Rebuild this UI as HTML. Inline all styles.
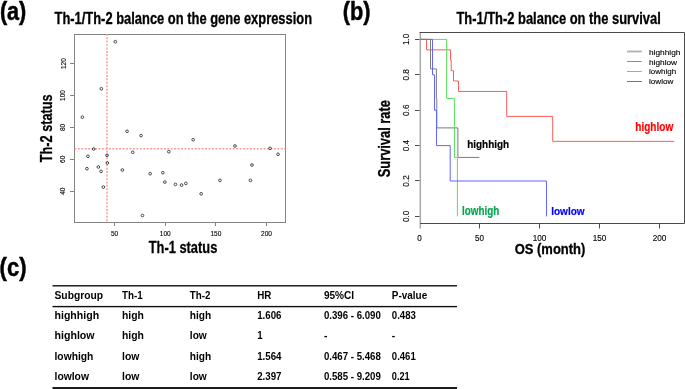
<!DOCTYPE html>
<html><head><meta charset="utf-8"><title>Th-1/Th-2 balance</title>
<style>
html,body{margin:0;padding:0;background:#fff;}
body{width:685px;height:389px;overflow:hidden;font-family:"Liberation Sans",sans-serif;}
svg{display:block;will-change:transform;opacity:0.999;}
svg text{font-family:"Liberation Sans",sans-serif;}
</style></head><body>
<svg width="685" height="389" viewBox="0 0 685 389">
<rect width="685" height="389" fill="#fff"/>
<text x="-0.10" y="19.80" font-size="26" font-weight="bold" fill="#000" text-anchor="start" textLength="26.40" lengthAdjust="spacingAndGlyphs" stroke="#000" stroke-width="0.5">(a)</text>
<text x="342.80" y="19.80" font-size="26" font-weight="bold" fill="#000" text-anchor="start" textLength="27.80" lengthAdjust="spacingAndGlyphs" stroke="#000" stroke-width="0.5">(b)</text>
<text x="-0.40" y="276.00" font-size="26" font-weight="bold" fill="#000" text-anchor="start" textLength="26.90" lengthAdjust="spacingAndGlyphs" stroke="#000" stroke-width="0.5">(c)</text>
<text x="54.50" y="23.70" font-size="16.0" font-weight="bold" fill="#000" text-anchor="start" textLength="257.60" lengthAdjust="spacingAndGlyphs" stroke="#000" stroke-width="0.3">Th-1/Th-2 balance on the gene expression</text>
<text x="456.40" y="23.70" font-size="16.0" font-weight="bold" fill="#000" text-anchor="start" textLength="204.40" lengthAdjust="spacingAndGlyphs" stroke="#000" stroke-width="0.3">Th-1/Th-2 balance on the survival</text>
<rect x="74.5" y="34.5" width="211.0" height="188.0" fill="none" stroke="#848484" stroke-width="1"/>
<line x1="114.50" y1="222.50" x2="114.50" y2="226.00" stroke="#848484" stroke-width="1" />
<text x="110.95" y="236.20" font-size="7.0" font-weight="normal" fill="#000" text-anchor="start" textLength="7.30" lengthAdjust="spacingAndGlyphs" stroke="#000" stroke-width="0.12">50</text>
<line x1="165.50" y1="222.50" x2="165.50" y2="226.00" stroke="#848484" stroke-width="1" />
<text x="159.78" y="236.20" font-size="7.0" font-weight="normal" fill="#000" text-anchor="start" textLength="10.90" lengthAdjust="spacingAndGlyphs" stroke="#000" stroke-width="0.12">100</text>
<line x1="215.50" y1="222.50" x2="215.50" y2="226.00" stroke="#848484" stroke-width="1" />
<text x="210.42" y="236.20" font-size="7.0" font-weight="normal" fill="#000" text-anchor="start" textLength="10.90" lengthAdjust="spacingAndGlyphs" stroke="#000" stroke-width="0.12">150</text>
<line x1="266.50" y1="222.50" x2="266.50" y2="226.00" stroke="#848484" stroke-width="1" />
<text x="261.06" y="236.20" font-size="7.0" font-weight="normal" fill="#000" text-anchor="start" textLength="10.90" lengthAdjust="spacingAndGlyphs" stroke="#000" stroke-width="0.12">200</text>
<line x1="70.00" y1="191.50" x2="74.50" y2="191.50" stroke="#848484" stroke-width="1" />
<text x="65.50" y="194.85" font-size="7.2" font-weight="normal" fill="#000" text-anchor="start" textLength="7.30" lengthAdjust="spacingAndGlyphs" transform="rotate(-90 65.50 194.85)" stroke="#000" stroke-width="0.12">40</text>
<line x1="70.00" y1="159.50" x2="74.50" y2="159.50" stroke="#848484" stroke-width="1" />
<text x="65.50" y="162.95" font-size="7.2" font-weight="normal" fill="#000" text-anchor="start" textLength="7.30" lengthAdjust="spacingAndGlyphs" transform="rotate(-90 65.50 162.95)" stroke="#000" stroke-width="0.12">60</text>
<line x1="70.00" y1="127.50" x2="74.50" y2="127.50" stroke="#848484" stroke-width="1" />
<text x="65.50" y="131.05" font-size="7.2" font-weight="normal" fill="#000" text-anchor="start" textLength="7.30" lengthAdjust="spacingAndGlyphs" transform="rotate(-90 65.50 131.05)" stroke="#000" stroke-width="0.12">80</text>
<line x1="70.00" y1="95.50" x2="74.50" y2="95.50" stroke="#848484" stroke-width="1" />
<text x="65.50" y="100.90" font-size="7.2" font-weight="normal" fill="#000" text-anchor="start" textLength="10.80" lengthAdjust="spacingAndGlyphs" transform="rotate(-90 65.50 100.90)" stroke="#000" stroke-width="0.12">100</text>
<line x1="70.00" y1="63.50" x2="74.50" y2="63.50" stroke="#848484" stroke-width="1" />
<text x="65.50" y="69.00" font-size="7.2" font-weight="normal" fill="#000" text-anchor="start" textLength="10.80" lengthAdjust="spacingAndGlyphs" transform="rotate(-90 65.50 69.00)" stroke="#000" stroke-width="0.12">120</text>
<line x1="107.00" y1="34.50" x2="107.00" y2="222.50" stroke="#ffb2b2" stroke-width="2.0" stroke-dasharray="2.0 1.435" stroke-dashoffset="0.8"/>
<line x1="74.50" y1="148.75" x2="285.50" y2="148.75" stroke="#ff9595" stroke-width="1.5" stroke-dasharray="1.8 1.64"/>
<circle cx="115.35" cy="41.70" r="1.35" fill="none" stroke="#1e1e1e" stroke-width="0.78"/>
<circle cx="101.35" cy="88.80" r="1.35" fill="none" stroke="#1e1e1e" stroke-width="0.78"/>
<circle cx="82.35" cy="117.20" r="1.35" fill="none" stroke="#1e1e1e" stroke-width="0.78"/>
<circle cx="127.05" cy="131.30" r="1.35" fill="none" stroke="#1e1e1e" stroke-width="0.78"/>
<circle cx="141.05" cy="135.60" r="1.35" fill="none" stroke="#1e1e1e" stroke-width="0.78"/>
<circle cx="93.65" cy="149.00" r="1.35" fill="none" stroke="#1e1e1e" stroke-width="0.78"/>
<circle cx="87.95" cy="156.30" r="1.35" fill="none" stroke="#1e1e1e" stroke-width="0.78"/>
<circle cx="107.05" cy="155.30" r="1.35" fill="none" stroke="#1e1e1e" stroke-width="0.78"/>
<circle cx="107.35" cy="163.00" r="1.35" fill="none" stroke="#1e1e1e" stroke-width="0.78"/>
<circle cx="132.75" cy="152.30" r="1.35" fill="none" stroke="#1e1e1e" stroke-width="0.78"/>
<circle cx="168.85" cy="151.70" r="1.35" fill="none" stroke="#1e1e1e" stroke-width="0.78"/>
<circle cx="86.95" cy="168.70" r="1.35" fill="none" stroke="#1e1e1e" stroke-width="0.78"/>
<circle cx="98.35" cy="167.00" r="1.35" fill="none" stroke="#1e1e1e" stroke-width="0.78"/>
<circle cx="101.05" cy="171.40" r="1.35" fill="none" stroke="#1e1e1e" stroke-width="0.78"/>
<circle cx="122.35" cy="170.00" r="1.35" fill="none" stroke="#1e1e1e" stroke-width="0.78"/>
<circle cx="150.15" cy="173.70" r="1.35" fill="none" stroke="#1e1e1e" stroke-width="0.78"/>
<circle cx="162.85" cy="172.70" r="1.35" fill="none" stroke="#1e1e1e" stroke-width="0.78"/>
<circle cx="164.85" cy="182.10" r="1.35" fill="none" stroke="#1e1e1e" stroke-width="0.78"/>
<circle cx="103.35" cy="187.10" r="1.35" fill="none" stroke="#1e1e1e" stroke-width="0.78"/>
<circle cx="142.45" cy="215.50" r="1.35" fill="none" stroke="#1e1e1e" stroke-width="0.78"/>
<circle cx="193.15" cy="139.70" r="1.35" fill="none" stroke="#1e1e1e" stroke-width="0.78"/>
<circle cx="234.95" cy="146.00" r="1.35" fill="none" stroke="#1e1e1e" stroke-width="0.78"/>
<circle cx="270.05" cy="148.30" r="1.35" fill="none" stroke="#1e1e1e" stroke-width="0.78"/>
<circle cx="278.05" cy="154.30" r="1.35" fill="none" stroke="#1e1e1e" stroke-width="0.78"/>
<circle cx="251.95" cy="165.00" r="1.35" fill="none" stroke="#1e1e1e" stroke-width="0.78"/>
<circle cx="250.35" cy="180.40" r="1.35" fill="none" stroke="#1e1e1e" stroke-width="0.78"/>
<circle cx="219.95" cy="180.40" r="1.35" fill="none" stroke="#1e1e1e" stroke-width="0.78"/>
<circle cx="175.45" cy="184.40" r="1.35" fill="none" stroke="#1e1e1e" stroke-width="0.78"/>
<circle cx="181.55" cy="185.10" r="1.35" fill="none" stroke="#1e1e1e" stroke-width="0.78"/>
<circle cx="185.85" cy="183.40" r="1.35" fill="none" stroke="#1e1e1e" stroke-width="0.78"/>
<circle cx="201.15" cy="193.80" r="1.35" fill="none" stroke="#1e1e1e" stroke-width="0.78"/>
<text x="148.70" y="252.60" font-size="16.8" font-weight="bold" fill="#000" text-anchor="start" textLength="68.60" lengthAdjust="spacingAndGlyphs" stroke="#000" stroke-width="0.3">Th-1 status</text>
<text x="51.90" y="162.30" font-size="16.8" font-weight="bold" fill="#000" text-anchor="start" textLength="68.00" lengthAdjust="spacingAndGlyphs" transform="rotate(-90 51.90 162.30)" stroke="#000" stroke-width="0.3">Th-2 status</text>
<line x1="420.30" y1="32.50" x2="420.30" y2="228.50" stroke="#a8a8a8" stroke-width="1.5" />
<path d="M419.5 32.5 H684.5 V223.5 H420" fill="none" stroke="#4a4a4a" stroke-width="1"/>
<text x="417.35" y="240.90" font-size="8.6" font-weight="normal" fill="#000" text-anchor="start" textLength="4.50" lengthAdjust="spacingAndGlyphs" stroke="#000" stroke-width="0.12">0</text>
<line x1="479.50" y1="223.50" x2="479.50" y2="228.50" stroke="#4a4a4a" stroke-width="1" />
<text x="475.08" y="240.90" font-size="8.6" font-weight="normal" fill="#000" text-anchor="start" textLength="9.00" lengthAdjust="spacingAndGlyphs" stroke="#000" stroke-width="0.12">50</text>
<line x1="539.50" y1="223.50" x2="539.50" y2="228.50" stroke="#4a4a4a" stroke-width="1" />
<text x="532.75" y="240.90" font-size="8.6" font-weight="normal" fill="#000" text-anchor="start" textLength="13.60" lengthAdjust="spacingAndGlyphs" stroke="#000" stroke-width="0.12">100</text>
<line x1="599.50" y1="223.50" x2="599.50" y2="228.50" stroke="#4a4a4a" stroke-width="1" />
<text x="592.73" y="240.90" font-size="8.6" font-weight="normal" fill="#000" text-anchor="start" textLength="13.60" lengthAdjust="spacingAndGlyphs" stroke="#000" stroke-width="0.12">150</text>
<line x1="659.50" y1="223.50" x2="659.50" y2="228.50" stroke="#4a4a4a" stroke-width="1" />
<text x="652.70" y="240.90" font-size="8.6" font-weight="normal" fill="#000" text-anchor="start" textLength="13.60" lengthAdjust="spacingAndGlyphs" stroke="#000" stroke-width="0.12">200</text>
<line x1="415.00" y1="216.50" x2="419.50" y2="216.50" stroke="#4a4a4a" stroke-width="1" />
<text x="408.80" y="222.10" font-size="8.6" font-weight="normal" fill="#000" text-anchor="start" textLength="11.40" lengthAdjust="spacingAndGlyphs" transform="rotate(-90 408.80 222.10)" stroke="#000" stroke-width="0.12">0.0</text>
<line x1="415.00" y1="180.50" x2="419.50" y2="180.50" stroke="#4a4a4a" stroke-width="1" />
<text x="408.80" y="186.70" font-size="8.6" font-weight="normal" fill="#000" text-anchor="start" textLength="11.40" lengthAdjust="spacingAndGlyphs" transform="rotate(-90 408.80 186.70)" stroke="#000" stroke-width="0.12">0.2</text>
<line x1="415.00" y1="145.50" x2="419.50" y2="145.50" stroke="#4a4a4a" stroke-width="1" />
<text x="408.80" y="151.30" font-size="8.6" font-weight="normal" fill="#000" text-anchor="start" textLength="11.40" lengthAdjust="spacingAndGlyphs" transform="rotate(-90 408.80 151.30)" stroke="#000" stroke-width="0.12">0.4</text>
<line x1="415.00" y1="110.50" x2="419.50" y2="110.50" stroke="#4a4a4a" stroke-width="1" />
<text x="408.80" y="115.90" font-size="8.6" font-weight="normal" fill="#000" text-anchor="start" textLength="11.40" lengthAdjust="spacingAndGlyphs" transform="rotate(-90 408.80 115.90)" stroke="#000" stroke-width="0.12">0.6</text>
<line x1="415.00" y1="74.50" x2="419.50" y2="74.50" stroke="#4a4a4a" stroke-width="1" />
<text x="408.80" y="80.50" font-size="8.6" font-weight="normal" fill="#000" text-anchor="start" textLength="11.40" lengthAdjust="spacingAndGlyphs" transform="rotate(-90 408.80 80.50)" stroke="#000" stroke-width="0.12">0.8</text>
<line x1="415.00" y1="39.50" x2="419.50" y2="39.50" stroke="#4a4a4a" stroke-width="1" />
<text x="408.80" y="45.10" font-size="8.6" font-weight="normal" fill="#000" text-anchor="start" textLength="11.40" lengthAdjust="spacingAndGlyphs" transform="rotate(-90 408.80 45.10)" stroke="#000" stroke-width="0.12">1.0</text>
<path d="M420.50 39.40 H430.50 V68.91 H436.40 V98.39 H436.80 V127.90 H457.90 V157.41 H479.30 V157.41" fill="none" stroke="#7c7c7c" stroke-width="1.0" stroke-linejoin="miter"/>
<path d="M420.50 39.40 H426.50 V49.84 H450.50 V60.29 H451.20 V70.73 H453.50 V81.00 H458.50 V91.44 H506.70 V116.40 H552.70 V141.35 H674.30 V141.35" fill="none" stroke="#ff5c5c" stroke-width="1.0" stroke-linejoin="miter"/>
<path d="M420.50 39.40 H446.70 V98.39 H454.40 V157.41 H457.40 V216.40" fill="none" stroke="#55e055" stroke-width="1.0" stroke-linejoin="miter"/>
<path d="M420.50 39.40 H432.50 V74.80 H434.50 V110.20 H436.50 V145.60 H450.20 V181.00 H546.50 V216.40" fill="none" stroke="#6464ff" stroke-width="1.0" stroke-linejoin="miter"/>
<line x1="627.00" y1="51.50" x2="641.80" y2="51.50" stroke="#b0b0b0" stroke-width="1.8" />
<text x="649.00" y="54.80" font-size="8.0" font-weight="normal" fill="#000" text-anchor="start" textLength="31.40" lengthAdjust="spacingAndGlyphs" stroke="#000" stroke-width="0.12">highhigh</text>
<line x1="627.00" y1="61.50" x2="641.80" y2="61.50" stroke="#ff5c5c" stroke-width="1" />
<text x="649.00" y="64.53" font-size="8.0" font-weight="normal" fill="#000" text-anchor="start" textLength="28.10" lengthAdjust="spacingAndGlyphs" stroke="#000" stroke-width="0.12">highlow</text>
<line x1="627.00" y1="71.50" x2="641.80" y2="71.50" stroke="#55e055" stroke-width="1" />
<text x="649.00" y="74.26" font-size="8.0" font-weight="normal" fill="#000" text-anchor="start" textLength="27.20" lengthAdjust="spacingAndGlyphs" stroke="#000" stroke-width="0.12">lowhigh</text>
<line x1="627.00" y1="81.50" x2="641.80" y2="81.50" stroke="#6464ff" stroke-width="1" />
<text x="649.00" y="83.99" font-size="8.0" font-weight="normal" fill="#000" text-anchor="start" textLength="24.40" lengthAdjust="spacingAndGlyphs" stroke="#000" stroke-width="0.12">lowlow</text>
<text x="467.20" y="148.10" font-size="11.5" font-weight="bold" fill="#000" text-anchor="start" textLength="42.00" lengthAdjust="spacingAndGlyphs" stroke="#000" stroke-width="0.2">highhigh</text>
<text x="635.30" y="130.80" font-size="12.4" font-weight="bold" fill="#ff0000" text-anchor="start" textLength="37.90" lengthAdjust="spacingAndGlyphs" stroke="#ff0000" stroke-width="0.2">highlow</text>
<text x="462.00" y="214.70" font-size="12.4" font-weight="bold" fill="#00a64f" text-anchor="start" textLength="37.30" lengthAdjust="spacingAndGlyphs" stroke="#00a64f" stroke-width="0.2">lowhigh</text>
<text x="551.20" y="214.90" font-size="11.5" font-weight="bold" fill="#0000ff" text-anchor="start" textLength="33.40" lengthAdjust="spacingAndGlyphs" stroke="#0000ff" stroke-width="0.2">lowlow</text>
<text x="514.70" y="254.20" font-size="15.0" font-weight="bold" fill="#000" text-anchor="start" textLength="70.60" lengthAdjust="spacingAndGlyphs" stroke="#000" stroke-width="0.3">OS (month)</text>
<text x="389.80" y="177.30" font-size="16.8" font-weight="bold" fill="#000" text-anchor="start" textLength="77.20" lengthAdjust="spacingAndGlyphs" transform="rotate(-90 389.80 177.30)" stroke="#000" stroke-width="0.3">Survival rate</text>
<rect x="52.5" y="285.1" width="404.5" height="1.4" fill="#111"/>
<rect x="52.5" y="305.9" width="404.5" height="1.4" fill="#111"/>
<rect x="52.5" y="387.0" width="404.5" height="2.2" fill="#1c1c1c"/>
<text x="54.50" y="298.90" font-size="11.3" font-weight="bold" fill="#000" text-anchor="start" textLength="48.60" lengthAdjust="spacingAndGlyphs" >Subgroup</text>
<text x="122.00" y="298.90" font-size="11.3" font-weight="bold" fill="#000" text-anchor="start" textLength="20.70" lengthAdjust="spacingAndGlyphs" >Th-1</text>
<text x="189.80" y="298.90" font-size="11.3" font-weight="bold" fill="#000" text-anchor="start" textLength="20.70" lengthAdjust="spacingAndGlyphs" >Th-2</text>
<text x="257.20" y="298.90" font-size="11.3" font-weight="bold" fill="#000" text-anchor="start" textLength="14.20" lengthAdjust="spacingAndGlyphs" >HR</text>
<text x="323.90" y="298.90" font-size="11.3" font-weight="bold" fill="#000" text-anchor="start" textLength="30.20" lengthAdjust="spacingAndGlyphs" >95%CI</text>
<text x="391.80" y="298.90" font-size="11.3" font-weight="bold" fill="#000" text-anchor="start" textLength="35.40" lengthAdjust="spacingAndGlyphs" >P-value</text>
<text x="54.50" y="319.30" font-size="11.3" font-weight="bold" fill="#000" text-anchor="start" textLength="44.60" lengthAdjust="spacingAndGlyphs" >highhigh</text>
<text x="122.00" y="319.30" font-size="11.3" font-weight="bold" fill="#000" text-anchor="start" textLength="21.90" lengthAdjust="spacingAndGlyphs" >high</text>
<text x="189.80" y="319.30" font-size="11.3" font-weight="bold" fill="#000" text-anchor="start" textLength="21.40" lengthAdjust="spacingAndGlyphs" >high</text>
<text x="257.20" y="319.30" font-size="11.3" font-weight="bold" fill="#000" text-anchor="start" textLength="24.30" lengthAdjust="spacingAndGlyphs" >1.606</text>
<text x="323.90" y="319.30" font-size="11.3" font-weight="bold" fill="#000" text-anchor="start" textLength="57.00" lengthAdjust="spacingAndGlyphs" >0.396 - 6.090</text>
<text x="391.80" y="319.30" font-size="11.3" font-weight="bold" fill="#000" text-anchor="start" textLength="24.10" lengthAdjust="spacingAndGlyphs" >0.483</text>
<text x="54.50" y="339.20" font-size="11.3" font-weight="bold" fill="#000" text-anchor="start" textLength="40.10" lengthAdjust="spacingAndGlyphs" >highlow</text>
<text x="122.00" y="339.20" font-size="11.3" font-weight="bold" fill="#000" text-anchor="start" textLength="21.90" lengthAdjust="spacingAndGlyphs" >high</text>
<text x="189.80" y="339.20" font-size="11.3" font-weight="bold" fill="#000" text-anchor="start" textLength="17.00" lengthAdjust="spacingAndGlyphs" >low</text>
<text x="257.20" y="339.20" font-size="11.3" font-weight="bold" fill="#000" text-anchor="start" textLength="5.40" lengthAdjust="spacingAndGlyphs" >1</text>
<text x="323.90" y="339.20" font-size="11.3" font-weight="bold" fill="#000" text-anchor="start" textLength="3.40" lengthAdjust="spacingAndGlyphs" >-</text>
<text x="391.80" y="339.20" font-size="11.3" font-weight="bold" fill="#000" text-anchor="start" textLength="3.40" lengthAdjust="spacingAndGlyphs" >-</text>
<text x="54.50" y="359.50" font-size="11.3" font-weight="bold" fill="#000" text-anchor="start" textLength="38.90" lengthAdjust="spacingAndGlyphs" >lowhigh</text>
<text x="122.00" y="359.50" font-size="11.3" font-weight="bold" fill="#000" text-anchor="start" textLength="17.40" lengthAdjust="spacingAndGlyphs" >low</text>
<text x="189.80" y="359.50" font-size="11.3" font-weight="bold" fill="#000" text-anchor="start" textLength="21.40" lengthAdjust="spacingAndGlyphs" >high</text>
<text x="257.20" y="359.50" font-size="11.3" font-weight="bold" fill="#000" text-anchor="start" textLength="24.30" lengthAdjust="spacingAndGlyphs" >1.564</text>
<text x="323.90" y="359.50" font-size="11.3" font-weight="bold" fill="#000" text-anchor="start" textLength="57.00" lengthAdjust="spacingAndGlyphs" >0.467 - 5.468</text>
<text x="391.80" y="359.50" font-size="11.3" font-weight="bold" fill="#000" text-anchor="start" textLength="24.00" lengthAdjust="spacingAndGlyphs" >0.461</text>
<text x="54.50" y="380.00" font-size="11.3" font-weight="bold" fill="#000" text-anchor="start" textLength="34.50" lengthAdjust="spacingAndGlyphs" >lowlow</text>
<text x="122.00" y="380.00" font-size="11.3" font-weight="bold" fill="#000" text-anchor="start" textLength="17.40" lengthAdjust="spacingAndGlyphs" >low</text>
<text x="189.80" y="380.00" font-size="11.3" font-weight="bold" fill="#000" text-anchor="start" textLength="17.00" lengthAdjust="spacingAndGlyphs" >low</text>
<text x="257.20" y="380.00" font-size="11.3" font-weight="bold" fill="#000" text-anchor="start" textLength="24.30" lengthAdjust="spacingAndGlyphs" >2.397</text>
<text x="323.90" y="380.00" font-size="11.3" font-weight="bold" fill="#000" text-anchor="start" textLength="57.00" lengthAdjust="spacingAndGlyphs" >0.585 - 9.209</text>
<text x="391.80" y="380.00" font-size="11.3" font-weight="bold" fill="#000" text-anchor="start" textLength="17.90" lengthAdjust="spacingAndGlyphs" >0.21</text>
</svg>
</body></html>
